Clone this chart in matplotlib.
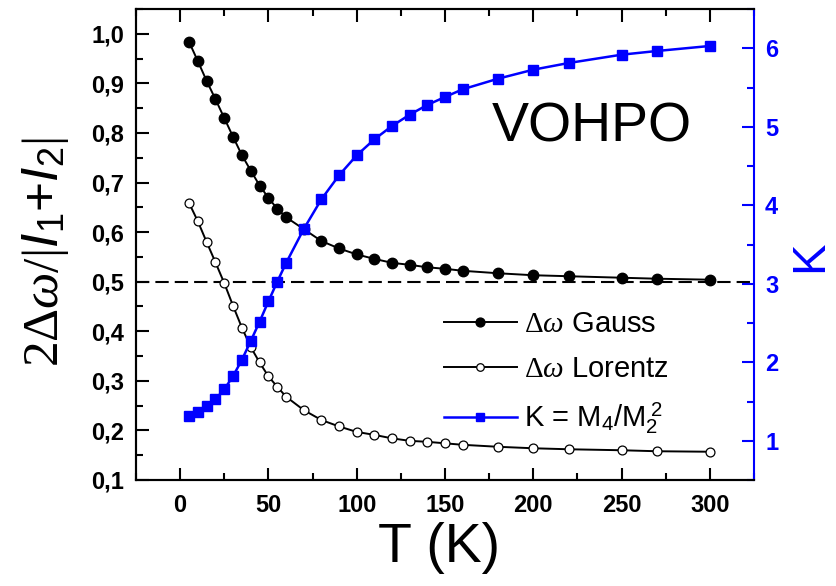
import numpy as np
import matplotlib
matplotlib.use("Agg")
import matplotlib.pyplot as plt
from matplotlib.ticker import MultipleLocator, FuncFormatter

plt.rcParams["font.family"] = ["Liberation Sans", "DejaVu Sans"]
plt.rcParams["mathtext.fontset"] = "custom"
plt.rcParams["mathtext.rm"] = "Liberation Serif"
plt.rcParams["mathtext.it"] = "Liberation Serif:italic"
plt.rcParams["mathtext.sf"] = "Liberation Sans:italic"
plt.rcParams["mathtext.bf"] = "Liberation Sans"

# temperature grid (K)
T = [5, 10, 15, 20, 25, 30, 35, 40, 45, 50, 55, 60, 70, 80, 90, 100, 110,
     120, 130, 140, 150, 160, 180, 200, 220, 250, 270, 300]

# 2 dw / |I1+I2|, Gaussian fit
gauss = [0.984, 0.945, 0.905, 0.868, 0.830, 0.792, 0.755, 0.724, 0.694,
         0.669, 0.647, 0.630, 0.606, 0.582, 0.567, 0.555, 0.546, 0.538,
         0.534, 0.529, 0.526, 0.522, 0.517, 0.513, 0.511, 0.508, 0.506, 0.504]

# 2 dw / |I1+I2|, Lorentzian fit
lorentz = [0.659, 0.622, 0.580, 0.539, 0.497, 0.451, 0.407, 0.368, 0.337,
           0.309, 0.288, 0.268, 0.241, 0.221, 0.208, 0.197, 0.191, 0.184,
           0.179, 0.177, 0.174, 0.171, 0.167, 0.164, 0.162, 0.160, 0.158, 0.157]

# kurtosis K = M4/M2^2
kurt = [1.315, 1.370, 1.443, 1.528, 1.655, 1.825, 2.032, 2.271, 2.517,
        2.776, 3.026, 3.264, 3.697, 4.076, 4.382, 4.636, 4.840, 5.010,
        5.154, 5.278, 5.379, 5.477, 5.612, 5.727, 5.812, 5.918, 5.965, 6.029]

BLUE = "#0000ff"

fig = plt.figure(figsize=(8.37, 5.86), dpi=100)
ax = fig.add_axes([136 / 837, 106 / 586, 618 / 837, 471 / 586])
ax2 = ax.twinx()

ax.axhline(0.5, color="black", lw=1.5, linestyle=(0, (6.4, 2.9)), zorder=1)
l1, = ax.plot(T, gauss, "-", color="black", lw=1.4, marker="o", ms=7.5,
              mfc="black", mec="black", label=r"$\Delta\omega$ Gauss", zorder=3)
l2, = ax.plot(T, lorentz, "-", color="black", lw=1.4, marker="o", ms=6.4,
              mfc="white", mec="black", mew=0.9, label=r"$\Delta\omega$ Lorentz",
              zorder=3)
l3, = ax2.plot(T, kurt, "-", color=BLUE, lw=1.8, marker="s", ms=6.6,
               mfc=BLUE, mec=BLUE, label=r"K = M$_\mathbf{4}$/M$_\mathbf{2}^{\ \mathbf{2}}$")

ax.set_xlim(-25, 325)
ax.set_ylim(0.1, 1.05)
ax2.set_ylim(0.5, 6.5)

comma = FuncFormatter(lambda v, pos: f"{v:.1f}".replace(".", ","))
ax.xaxis.set_major_locator(MultipleLocator(50))
ax.xaxis.set_minor_locator(MultipleLocator(25))
ax.yaxis.set_major_locator(MultipleLocator(0.1))
ax.yaxis.set_minor_locator(MultipleLocator(0.05))
ax.yaxis.set_major_formatter(comma)
ax2.yaxis.set_major_locator(MultipleLocator(1))
ax2.yaxis.set_minor_locator(MultipleLocator(0.5))

ax.tick_params(axis="both", which="both", direction="in", top=True, width=1.5)
ax.tick_params(which="major", length=9)
ax.tick_params(which="minor", length=5)
ax.tick_params(axis="y", which="major", pad=8.5, labelsize=17)
ax.tick_params(axis="x", which="major", pad=10, labelsize=17)
ax2.tick_params(axis="y", which="both", direction="in", color=BLUE,
                labelcolor=BLUE, width=1.5)
ax2.tick_params(axis="y", which="major", length=9, pad=8, labelsize=17)
ax2.tick_params(axis="y", which="minor", length=5)
for lab in ax.get_xticklabels() + ax.get_yticklabels() + ax2.get_yticklabels():
    lab.set_fontweight("bold")

for sp in ax.spines.values():
    sp.set_linewidth(1.5)
for sp in ax2.spines.values():
    sp.set_linewidth(1.5)
ax2.spines["right"].set_color(BLUE)
ax.spines["right"].set_visible(False)

ax.set_xlabel("T (K)", fontsize=40)
ax.xaxis.set_label_coords(0.49, -0.09)
ax.set_ylabel(r"$2\Delta\omega/|\mathsf{I}_\mathbf{1}\mathbf{+}\mathsf{I}_\mathbf{2}|$",
              fontsize=37)
ax.yaxis.set_label_coords(-0.105, 0.484)
ax2.set_ylabel("K", fontsize=34, color=BLUE)
ax2.yaxis.set_label_coords(1.056, 0.476)

ax.text(233, 0.81, "VOHPO", fontsize=40, ha="center", va="center")

ax2.legend(handles=[l1, l2, l3], loc="upper left", bbox_to_anchor=(0.498, 0.36),
           frameon=False, fontsize=21, numpoints=1, handlelength=2.5,
           handletextpad=0.25, labelspacing=0.58, borderpad=0, borderaxespad=0,
           markerscale=0.85)

fig.savefig("out.png", dpi=100)
